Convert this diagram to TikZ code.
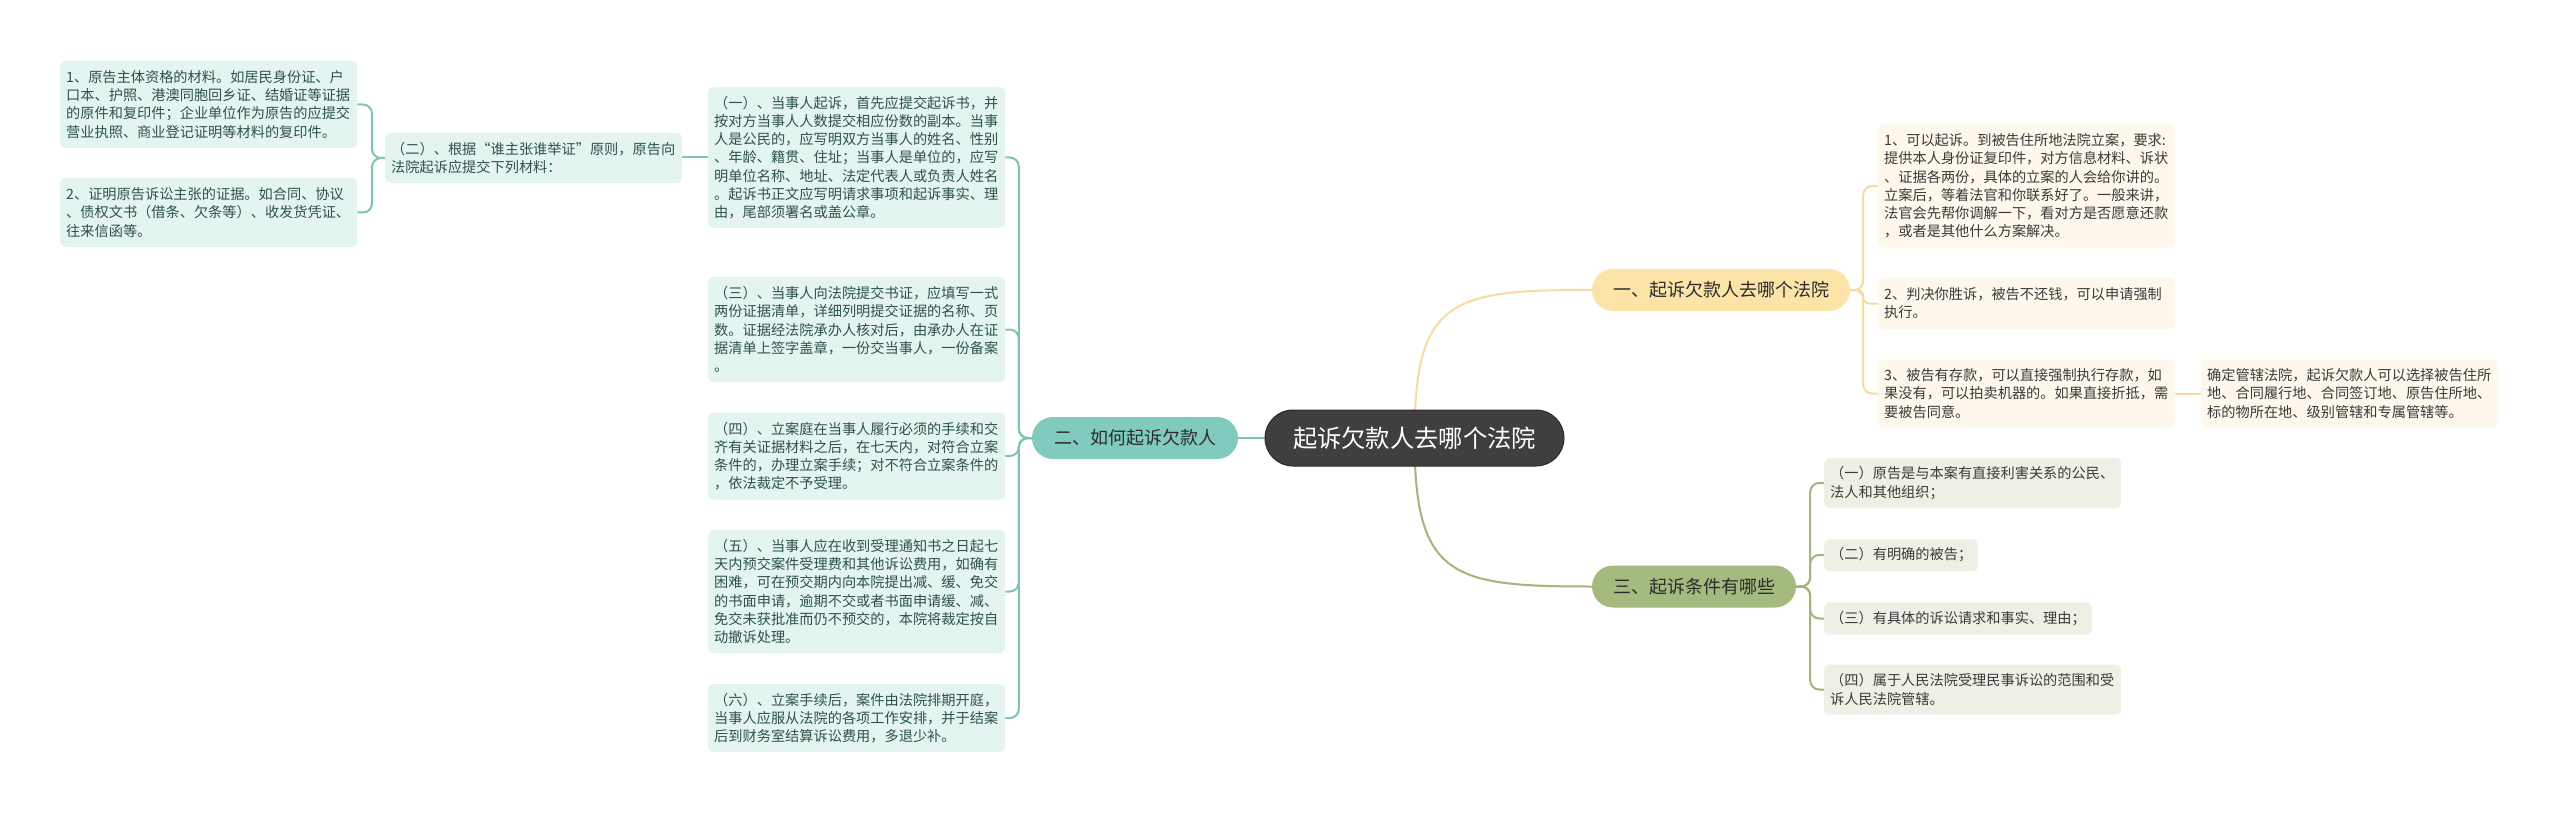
\documentclass[tikz,border=0pt]{standalone}
\usepackage{fontspec}
\newfontfamily\cjk{Noto Sans CJK SC}
\usetikzlibrary{backgrounds,calc}
\definecolor{rootfill}{HTML}{3F3F3F}
\definecolor{rootdraw}{HTML}{2A2A2A}
\definecolor{tbranch}{HTML}{80CBBE}
\definecolor{ybranch}{HTML}{FCE3A8}
\definecolor{gbranch}{HTML}{A4BA7E}
\definecolor{tfill}{HTML}{E4F4F0}
\definecolor{yfill}{HTML}{FDF8EB}
\definecolor{gfill}{HTML}{EEF0E5}
\definecolor{ttext}{HTML}{2E524B}
\definecolor{ytext}{HTML}{3A3A3A}
\definecolor{gtext}{HTML}{3A3A3A}
\definecolor{btext}{HTML}{2B2B2B}
\definecolor{tlinec}{HTML}{7CC5B6}
\definecolor{ylinec}{HTML}{F7DC9E}
\definecolor{glinec}{HTML}{A2B57A}
\tikzset{
  base/.style={font=\cjk\fontsize{14.2}{18.2}\selectfont, rounded corners=5pt,
    inner ysep=0pt, inner xsep=6pt, align=left, anchor=west},
  tbox/.style={base, fill=tfill, text=ttext, text width=285pt},
  ybox/.style={base, fill=yfill, text=ytext, text width=285pt},
  gbox/.style={base, fill=gfill, text=gtext, text width=285pt},
  gshort/.style={base, fill=gfill, text=gtext},
  branch/.style={font=\cjk\fontsize{18}{22}\selectfont, rounded corners=21pt,
    minimum height=42pt, inner xsep=0pt, inner ysep=0pt, text=btext},
  tline/.style={draw=tlinec, line width=2pt},
  yline/.style={draw=ylinec, line width=2pt},
  gline/.style={draw=glinec, line width=2pt},
}
\begin{document}
\begin{tikzpicture}[x=1pt, y=-1pt]
\useasboundingbox (0,0) rectangle (2560,813);

% root
\node[fill=rootfill, draw=rootdraw, line width=1pt, rounded corners=28pt, minimum width=299pt,
  minimum height=56pt, text=white, font=\cjk\fontsize{24.3}{28}\selectfont, inner sep=0pt]
  (root) at (1414.5,438) {起诉欠款人去哪个法院};

% branches
\node[branch, fill=tbranch, minimum width=206pt] (b2) at (1135,438) {二、如何起诉欠款人};
\node[branch, fill=ybranch, minimum width=258pt] (b1) at (1721,290) {一、起诉欠款人去哪个法院};
\node[branch, fill=gbranch, minimum width=204pt] (b3) at (1694,586.5) {三、起诉条件有哪些};

% teal side
\node[tbox, minimum height=87pt] (l1) at (60,104.5) {1、原告主体资格的材料。如居民身份证、户\\口本、护照、港澳同胞回乡证、结婚证等证据\\的原件和复印件；企业单位作为原告的应提交\\营业执照、商业登记证明等材料的复印件。};
\node[tbox, minimum height=69pt] (l2) at (60,212.5) {2、证明原告诉讼主张的证据。如合同、协议\\、债权文书（借条、欠条等）、收发货凭证、\\往来信函等。};
\node[tbox, minimum height=50pt] (t0) at (385,158) {（二）、根据“谁主张谁举证”原则，原告向\\法院起诉应提交下列材料：};
\node[tbox, minimum height=141pt] (t1) at (708,157.5) {（一）、当事人起诉，首先应提交起诉书，并\\按对方当事人人数提交相应份数的副本。当事\\人是公民的，应写明双方当事人的姓名、性别\\、年龄、籍贯、住址；当事人是单位的，应写\\明单位名称、地址、法定代表人或负责人姓名\\。起诉书正文应写明请求事项和起诉事实、理\\由，尾部须署名或盖公章。};
\node[tbox, minimum height=105pt] (t2) at (708,329.5) {（三）、当事人向法院提交书证，应填写一式\\两份证据清单，详细列明提交证据的名称、页\\数。证据经法院承办人核对后，由承办人在证\\据清单上签字盖章，一份交当事人，一份备案\\。};
\node[tbox, minimum height=87pt] (t3) at (708,456) {（四）、立案庭在当事人履行必须的手续和交\\齐有关证据材料之后，在七天内，对符合立案\\条件的，办理立案手续；对不符合立案条件的\\，依法裁定不予受理。};
\node[tbox, minimum height=123pt] (t4) at (708,591.5) {（五）、当事人应在收到受理通知书之日起七\\天内预交案件受理费和其他诉讼费用，如确有\\困难，可在预交期内向本院提出减、缓、免交\\的书面申请，逾期不交或者书面申请缓、减、\\免交未获批准而仍不预交的，本院将裁定按自\\动撤诉处理。};
\node[tbox, minimum height=68pt] (t5) at (708,718) {（六）、立案手续后，案件由法院排期开庭，\\当事人应服从法院的各项工作安排，并于结案\\后到财务室结算诉讼费用，多退少补。};

% yellow side
\node[ybox, minimum height=123pt] (y1) at (1878,186) {1、可以起诉。到被告住所地法院立案，要求:\\提供本人身份证复印件，对方信息材料、诉状\\、证据各两份，具体的立案的人会给你讲的。\\立案后，等着法官和你联系好了。一般来讲，\\法官会先帮你调解一下，看对方是否愿意还款\\，或者是其他什么方案解决。};
\node[ybox, minimum height=51pt] (y2) at (1878,303.5) {2、判决你胜诉，被告不还钱，可以申请强制\\执行。};
\node[ybox, minimum height=68pt] (y3) at (1878,393.5) {3、被告有存款，可以直接强制执行存款，如\\果没有，可以拍卖机器的。如果直接折抵，需\\要被告同意。};
\node[ybox, minimum height=68pt] (y3c) at (2201,393.5) {确定管辖法院，起诉欠款人可以选择被告住所\\地、合同履行地、合同签订地、原告住所地、\\标的物所在地、级别管辖和专属管辖等。};

% green side
\node[gbox, minimum height=50pt] (g1) at (1824,483) {（一）原告是与本案有直接利害关系的公民、\\法人和其他组织；};
\node[gshort, minimum height=32pt] (g2) at (1824,555) {（二）有明确的被告；};
\node[gshort, minimum height=32pt] (g3) at (1824,618.5) {（三）有具体的诉讼请求和事实、理由；};
\node[gbox, minimum height=50pt] (g4) at (1824,689.5) {（四）属于人民法院受理民事诉讼的范围和受\\诉人民法院管辖。};

\begin{pgfonlayer}{background}
\fill[white] (0,0) rectangle (2560,813);
% root connectors
\draw[tline] (b2.east) -- (root.west);
\draw[yline] (root.center) .. controls ($(root.center)+(0,-140)$) and ($(b1.west)+(-140,0)$) .. (b1.west);
\draw[gline] (root.center) .. controls ($(root.center)+(0,140)$) and ($(b3.west)+(-140,0)$) .. (b3.west);
% teal trunk
\foreach \c in {t1,t2,t3,t4,t5}
  \draw[tline, rounded corners=9pt] (b2.west) -- ++(-13,0) |- (\c.east);
\draw[tline] (t1.west) -- (t1.west -| t0.east);
\foreach \c in {l1,l2}
  \draw[tline, rounded corners=9pt] (t0.west) -- ++(-13,0) |- (\c.east);
% yellow trunk
\foreach \c in {y1,y3}
  \draw[yline, rounded corners=9pt] (b1.east) -- ++(13,0) |- (\c.west);
\draw[yline, rounded corners=6pt] (b1.east) -- ++(13,0) |- (y2.west);
\draw[yline] (y3.east) -- (y3c.west);
% green trunk
\foreach \c in {g1,g2,g3,g4}
  \draw[gline, rounded corners=9pt] (b3.east) -- ++(14,0) |- (\c.west);
\end{pgfonlayer}
\end{tikzpicture}
\end{document}
